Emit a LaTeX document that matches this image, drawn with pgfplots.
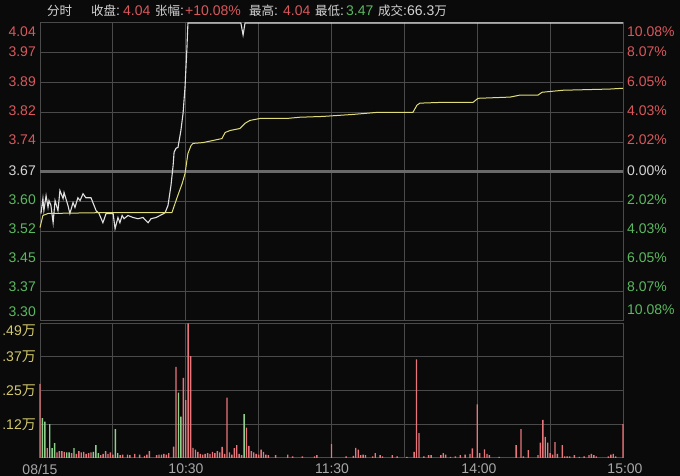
\documentclass[border=0pt]{standalone}
\usepackage{pgfplots}
\pgfplotsset{compat=1.18}
\usepackage{fontspec}
\setmainfont{Liberation Sans}
\newfontfamily\cjk{Noto Sans CJK SC}
\newcommand{\hz}[1]{{\cjk\fontsize{12.5}{15}\selectfont #1}}
\definecolor{bg}{HTML}{0A0A0A}
\definecolor{gridc}{HTML}{4A4A4A}
\definecolor{midc}{HTML}{6A6A6A}
\definecolor{upred}{HTML}{D8585C}
\definecolor{dngreen}{HTML}{5CB860}
\definecolor{lbl}{HTML}{D4D4D4}
\definecolor{volred}{HTML}{E8767A}
\definecolor{volgrn}{HTML}{8CD08C}
\definecolor{avgc}{HTML}{E0DC78}
\definecolor{pricec}{HTML}{E0E0E0}
\definecolor{vlab}{HTML}{D2C86E}
\definecolor{xlab}{HTML}{A8A8A8}
\begin{document}
\begin{tikzpicture}[every node/.style={inner sep=0pt, font=\fontsize{14}{16}\selectfont}]
\fill[bg] (0pt,0pt) rectangle (680pt,476pt);
\useasboundingbox (0pt,0pt) rectangle (680pt,476pt);

% ---------------- price panel ----------------
\begin{axis}[at={(40pt,155pt)}, anchor=south west, scale only axis,
  width=583pt, height=298pt,
  xmin=0, xmax=240, ymin=3.30, ymax=4.04,
  xtick={0,30,...,240},
  ytick={3.3,3.374,3.448,3.522,3.596,3.67,3.744,3.818,3.892,3.966,4.04},
  xticklabels={}, yticklabels={}, major tick length=0pt,
  grid=major, grid style={gridc, line width=1pt},
  axis line style={gridc, line width=1pt},
  extra y ticks={3.67}, extra y tick labels={},
  extra y tick style={grid style={midc, line width=3pt}},
  clip=false]
\addplot[pricec, line width=1.1pt] coordinates {
(0.4,3.567) (1.2,3.604) (1.6,3.574) (2.5,3.611) (3.3,3.582) (3.7,3.599)
(4.5,3.587) (5.4,3.544) (6.2,3.599) (7.4,3.574) (8.2,3.624) (9.5,3.604)
(9.9,3.619) (11.5,3.587) (12.3,3.567) (13.6,3.594) (14.4,3.582) (15.6,3.606)
(16.5,3.599) (17.7,3.616) (18.9,3.606) (21.0,3.606) (23.1,3.574) (24.3,3.567)
(25.9,3.544) (27.2,3.567) (29.2,3.567) (30.1,3.567) (30.9,3.529) (32.1,3.557)
(32.9,3.544) (33.8,3.562) (34.6,3.554) (36.2,3.562) (38.3,3.557) (40.3,3.554)
(42.4,3.557) (44.5,3.544) (45.7,3.554) (47.8,3.557) (49.4,3.562) (51.0,3.567)
(51.5,3.569) (52.7,3.587) (53.9,3.636) (54.8,3.686) (55.2,3.719) (56.0,3.729)
(56.8,3.731) (58.0,3.773) (58.9,3.816) (59.7,3.881) (60.5,3.980) (60.9,4.04)
(82.7,4.04) (83.6,4.010) (84.4,4.04) (240,4.04)
};
\addplot[avgc, line width=1pt] coordinates {
(0,3.532) (1.2,3.562) (3.3,3.567) (24.7,3.569) (53.1,3.569) (54.3,3.569)
(56.4,3.606) (58.5,3.641) (59.7,3.666) (60.9,3.716) (62.2,3.736) (63.0,3.741)
(67.1,3.743) (74.9,3.753) (76.2,3.768) (78.2,3.773) (82.3,3.778) (84.4,3.791)
(86.4,3.798) (90.6,3.803) (101.7,3.803) (107.0,3.806) (116.5,3.808) (128.9,3.813)
(138.7,3.818) (153.5,3.818) (155.2,3.836) (156.4,3.841) (165.9,3.843) (178.3,3.843)
(180.3,3.853) (193.5,3.856) (197.6,3.861) (205.0,3.861) (206.7,3.868) (215.3,3.873)
(234.6,3.876) (240,3.878)
};
\end{axis}

% ---------------- volume panel ----------------
\begin{axis}[at={(40pt,18pt)}, anchor=south west, scale only axis,
  width=583pt, height=135pt,
  xmin=0, xmax=240, ymin=0, ymax=0.49,
  xtick={0,30,...,240}, ytick={0.1225,0.245,0.3675,0.49},
  xticklabels={}, yticklabels={}, major tick length=0pt,
  grid=major, grid style={gridc, line width=1pt},
  axis line style={gridc, line width=1pt},
  ybar, bar width=1.4pt, clip=false]
\addplot[fill=volred, draw=none, bar shift=0pt] table {
m v
0 0.269
3 0.036
7 0.02
8 0.025
9 0.025
10 0.022
13 0.018
15 0.015
16 0.025
17 0.02
18 0.022
19 0.015
20 0.018
21 0.02
25 0.01
26 0.015
27 0.025
28 0.015
29 0.02
30 0.012
33 0.01
34 0.012
36 0.012
37 0.01
39 0.015
41 0.012
43 0.008
44 0.012
45 0.025
48 0.01
49 0.012
50 0.012
51 0.015
52 0.012
53 0.018
55 0.041
56 0.331
59 0.291
60 0.210
61 0.489
62 0.370
63 0.037
64 0.03
65 0.022
66 0.015
67 0.012
68 0.015
69 0.018
70 0.015
71 0.022
72 0.018
73 0.025
74 0.02
75 0.04
76 0.015
77 0.219
78 0.02
79 0.012
80 0.036
81 0.047
82 0.015
83 0.01
85 0.110
86 0.044
87 0.025
88 0.02
89 0.015
90 0.012
91 0.03
92 0.022
93 0.012
94 0.01
97 0.01
102 0.012
104 0.006
108 0.006
113 0.006
114 0.01
120 0.050
126 0.006
129 0.008
130 0.037
131 0.03
132 0.01
133 0.012
134 0.01
137 0.006
138 0.018
140 0.01
141 0.006
145 0.01
147 0.006
151 0.004
154 0.022
155 0.358
156 0.090
158 0.006
160 0.01
161 0.01
165 0.01
166 0.018
167 0.012
169 0.004
171 0.006
173 0.01
175 0.012
177 0.015
178 0.035
180 0.195
181 0.018
183 0.031
184 0.015
185 0.01
189 0.004
196 0.047
198 0.105
199 0.006
201 0.029
205 0.01
206 0.056
207 0.138
208 0.077
209 0.056
210 0.018
211 0.012
212 0.058
213 0.015
215 0.047
216 0.006
217 0.006
218 0.006
220 0.01
222 0.004
224 0.006
226 0.01
227 0.015
228 0.01
229 0.006
234 0.006
235 0.012
236 0.015
237 0.006
240 0.123
};
\addplot[fill=volgrn, draw=none, bar shift=0pt] table {
m v
1 0.145
2 0.132
4 0.123
5 0.036
6 0.054
11 0.02
12 0.02
14 0.036
22 0.022
23 0.047
24 0.018
31 0.105
32 0.018
57 0.237
58 0.150
84 0.159
};
\end{axis}

% ---------------- price labels (left) ----------------
\node[anchor=east, text=upred] at (36pt,444pt) {4.04};
\node[anchor=east, text=upred] at (36pt,424pt) {3.97};
\node[anchor=east, text=upred] at (36pt,394.5pt) {3.89};
\node[anchor=east, text=upred] at (36pt,365.5pt) {3.82};
\node[anchor=east, text=upred] at (36pt,336pt) {3.74};
\node[anchor=east, text=lbl] at (36pt,305.5pt) {3.67};
\node[anchor=east, text=dngreen] at (36pt,276pt) {3.60};
\node[anchor=east, text=dngreen] at (36pt,247pt) {3.52};
\node[anchor=east, text=dngreen] at (36pt,218pt) {3.45};
\node[anchor=east, text=dngreen] at (36pt,189pt) {3.37};
\node[anchor=east, text=dngreen] at (36pt,164.5pt) {3.30};
% ---------------- percent labels (right) ----------------
\node[anchor=west, text=upred] at (627pt,444pt) {10.08\%};
\node[anchor=west, text=upred] at (627pt,424pt) {8.07\%};
\node[anchor=west, text=upred] at (627pt,394.5pt) {6.05\%};
\node[anchor=west, text=upred] at (627pt,365.5pt) {4.03\%};
\node[anchor=west, text=upred] at (627pt,336pt) {2.02\%};
\node[anchor=west, text=lbl] at (627pt,305.5pt) {0.00\%};
\node[anchor=west, text=dngreen] at (627pt,276pt) {2.02\%};
\node[anchor=west, text=dngreen] at (627pt,247pt) {4.03\%};
\node[anchor=west, text=dngreen] at (627pt,218pt) {6.05\%};
\node[anchor=west, text=dngreen] at (627pt,189pt) {8.07\%};
\node[anchor=west, text=dngreen] at (627pt,166pt) {10.08\%};
% ---------------- volume labels ----------------
\node[anchor=east, text=vlab] at (36pt,145pt) {.49{\cjk 万}};
\node[anchor=east, text=vlab] at (36pt,119pt) {.37{\cjk 万}};
\node[anchor=east, text=vlab] at (36pt,85pt) {.25{\cjk 万}};
\node[anchor=east, text=vlab] at (36pt,51pt) {.12{\cjk 万}};
% ---------------- time labels ----------------
\node[text=xlab] at (40pt,7pt) {08/15};
\node[text=xlab] at (186pt,7pt) {10:30};
\node[text=xlab] at (332pt,7pt) {11:30};
\node[text=xlab] at (479pt,7pt) {14:00};
\node[text=xlab] at (625pt,7pt) {15:00};
% ---------------- header ----------------
\node[anchor=west, text=lbl] at (47pt,465pt) {\hz{分时}};
\node[anchor=west, text=lbl] at (91pt,465pt) {\hz{收盘}:};
\node[anchor=west, text=upred] at (123pt,465pt) {4.04};
\node[anchor=west, text=lbl] at (155pt,465pt) {\hz{张幅}:};
\node[anchor=west, text=upred] at (185pt,465pt) {+10.08\%};
\node[anchor=west, text=lbl] at (249pt,465pt) {\hz{最高}:};
\node[anchor=west, text=upred] at (283pt,465pt) {4.04};
\node[anchor=west, text=lbl] at (315pt,465pt) {\hz{最低}:};
\node[anchor=west, text=dngreen] at (346pt,465pt) {3.47};
\node[anchor=west, text=lbl] at (378pt,465pt) {\hz{成交}:66.3\hz{万}};
\end{tikzpicture}
\end{document}
